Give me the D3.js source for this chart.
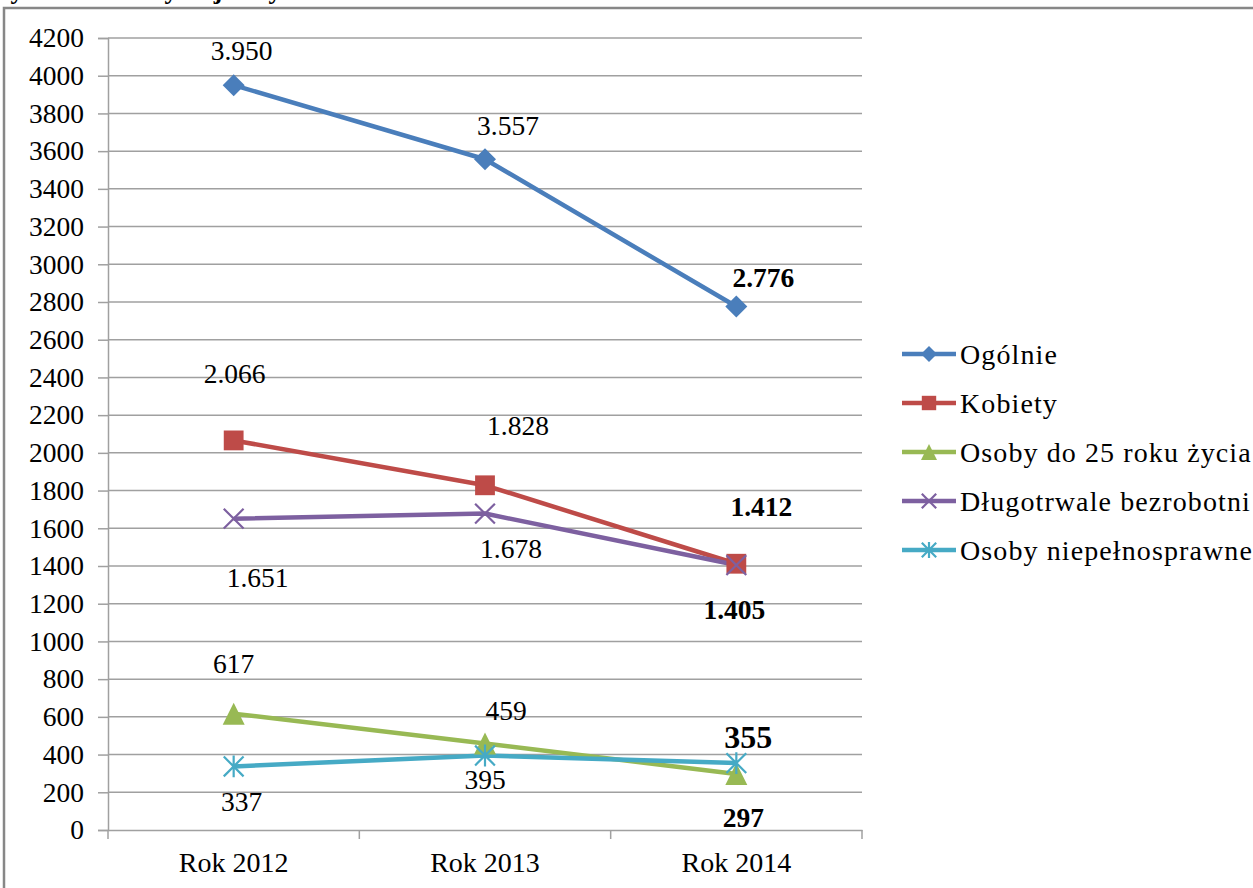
<!DOCTYPE html>
<html><head><meta charset="utf-8">
<script src="https://cdn.jsdelivr.net/npm/d3@7"></script>
<style>html,body{margin:0;padding:0;background:#fff;overflow:hidden}</style>
</head><body><svg id="c" width="1253" height="888"></svg>
<script>
const categories = ["Rok 2012", "Rok 2013", "Rok 2014"];
const seriesNames = ["Ogólnie", "Kobiety", "Osoby do 25 roku życia", "Długotrwale bezrobotni", "Osoby niepełnosprawne"];
const ogolnie = [3950, 3557, 2776];
const kobiety = [2066, 1828, 1412];
const osobyDo25 = [617, 459, 297];
const dlugotrwale = [1651, 1678, 1405];
const niepelnosprawne = [337, 395, 355];
const yTicks = d3.range(0, 4201, 200);
const colors = ["#4A7EBB", "#BE4B48", "#98B954", "#7D60A0", "#46AAC5"];
const markers = ["diamond", "square", "triangle", "x", "asterisk"];
// label offsets (layout): [dx, dy] per point
const labelOffsets = [
  [[8,-35],[23,-34],[27,-29]],
  [[1,-67],[33,-60],[25,-57]],
  [[0,-50],[21,-33],[7,44]],
  [[24,59],[26,35],[-2,44]],
  [[8,35],[0,24],[12,-26]]
];
const titleGlyphs = [["y",17],["y",171],["j",218],["y",275]];

const values = [ogolnie, kobiety, osobyDo25, dlugotrwale, niepelnosprawne];
const series = seriesNames.map((n,i)=>({name:n, values:values[i], color:colors[i], marker:markers[i], offs:labelOffsets[i]}));

const svg = d3.select("#c");
const font = "Liberation Serif";
const pl = 108, pr = 862, pt = 38, pb = 830;

// outer frame
svg.append("rect").attr("x",4).attr("y",8).attr("width",1300).attr("height",950)
  .attr("fill","none").attr("stroke","#878787").attr("stroke-width",2.5);

// clipped title glyphs (top of the page, as in the reference)
svg.append("g").selectAll("text").data(titleGlyphs).join("text")
  .attr("x",d=>d[1]).attr("y",-1).attr("text-anchor","middle")
  .attr("font-family",font).attr("font-weight","bold").attr("font-size",26).text(d=>d[0]);

const x = d3.scaleBand().domain(categories).range([pl, pr]).padding(0);
const y = d3.scaleLinear().domain([0, 4200]).range([pb, pt]);
const cx = c => x(c) + x.bandwidth()/2;

// gridlines
svg.append("g").selectAll("line").data(yTicks.filter(v=>v>0)).join("line")
  .attr("x1",pl).attr("x2",pr).attr("y1",d=>y(d)).attr("y2",d=>y(d))
  .attr("stroke","#a0a0a0").attr("stroke-width",1.5);

// y axis
const ya = svg.append("g").attr("transform",`translate(${pl},0)`)
  .call(d3.axisLeft(y).tickValues(yTicks).tickSize(10).tickPadding(14).tickFormat(d3.format("d")));
ya.attr("font-family",font);
ya.selectAll("path").attr("stroke","#a0a0a0").attr("stroke-width",1.5);
ya.selectAll("line").attr("stroke","#a0a0a0").attr("stroke-width",1.5);
ya.selectAll("text").attr("font-family",font).attr("font-size",27.5).attr("fill","#000");

// x axis
const xa = svg.append("g").attr("transform",`translate(0,${pb})`)
  .call(d3.axisBottom(x).tickSize(0).tickPadding(22));
xa.attr("font-family",font);
xa.select("path").attr("stroke","#a0a0a0").attr("stroke-width",1.5);
xa.selectAll("text").attr("font-family",font).attr("font-size",28).attr("fill","#000");
const xb = [pl, ...categories.map(c=>x(c)+x.bandwidth())];
svg.append("g").selectAll("line").data(xb).join("line")
  .attr("x1",d=>d).attr("x2",d=>d).attr("y1",pb).attr("y2",pb+9)
  .attr("stroke","#a0a0a0").attr("stroke-width",1.5);

function drawMarker(g, type, color, s) {
  if (type==="diamond") g.append("path").attr("d",`M0,${-s/2}L${s/2},0L0,${s/2}L${-s/2},0Z`).attr("fill",color);
  else if (type==="square") g.append("rect").attr("x",-s*0.45).attr("y",-s*0.45).attr("width",s*0.9).attr("height",s*0.9).attr("fill",color);
  else if (type==="triangle") g.append("path").attr("d",`M0,${-s/2}L${s/2},${s/2}L${-s/2},${s/2}Z`).attr("fill",color);
  else if (type==="x") { const h=s*0.45; g.append("path").attr("d",`M${-h},${-h}L${h},${h}M${-h},${h}L${h},${-h}`).attr("stroke",color).attr("stroke-width",2.2).attr("fill","none"); }
  else if (type==="asterisk") { const h=s*0.45; g.append("path").attr("d",`M${-h},${-h}L${h},${h}M${-h},${h}L${h},${-h}M0,${-h*1.1}L0,${h*1.1}`).attr("stroke",color).attr("stroke-width",2.2).attr("fill","none"); }
}

const line = d3.line().x((d,i)=>cx(categories[i])).y(d=>y(d));
const order = [0,1,3,2,4];
order.forEach(si=>{
  const s = series[si];
  svg.append("path").datum(s.values).attr("d",line).attr("fill","none")
    .attr("stroke",s.color).attr("stroke-width",4.5).attr("stroke-linejoin","round");
});
order.forEach(si=>{
  const s = series[si];
  s.values.forEach((v,i)=>{
    const g = svg.append("g").attr("transform",`translate(${cx(categories[i])},${y(v)})`);
    drawMarker(g, s.marker, s.color, 22);
  });
});

// data labels
const plLocale = d3.formatLocale({decimal:",", thousands:".", grouping:[3], currency:["","zł"]});
const fmt = plLocale.format(",d");
series.forEach(s=>{
  s.values.forEach((v,i)=>{
    const last = i===2;
    const big = last && s.marker==="asterisk";
    svg.append("text").attr("x",cx(categories[i])+s.offs[i][0]).attr("y",y(v)+s.offs[i][1])
      .attr("text-anchor","middle").attr("dominant-baseline","central")
      .attr("font-family",font).attr("font-size",big?32:27.5).attr("font-weight",last?"bold":"normal")
      .attr("fill","#000").text(fmt(v));
  });
});

// legend
const lg = svg.append("g");
series.forEach((s,i)=>{
  const yy = 354 + i*49;
  lg.append("line").attr("x1",902).attr("x2",956).attr("y1",yy).attr("y2",yy)
    .attr("stroke",s.color).attr("stroke-width",4.5);
  const g = lg.append("g").attr("transform",`translate(929,${yy})`);
  drawMarker(g, s.marker, s.color, 16);
  lg.append("text").attr("x",960).attr("y",yy).attr("dominant-baseline","central")
    .attr("font-family",font).attr("font-size",28).attr("letter-spacing",1.1)
    .attr("fill","#000").text(s.name);
});
</script></body></html>
